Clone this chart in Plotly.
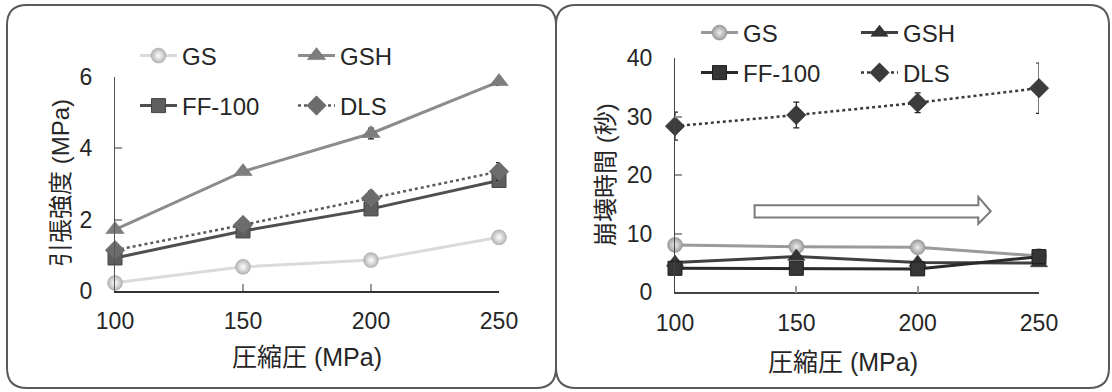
import plotly.graph_objects as go

W, H = 1112, 392

pressure = [100, 150, 200, 250]
series_names = ["GS", "GSH", "FF-100", "DLS"]

# Left panel: tensile strength (MPa)
ts_GS = [0.22, 0.67, 0.86, 1.50]
ts_GSH = [1.72, 3.35, 4.42, 5.88]
ts_FF = [0.92, 1.68, 2.30, 3.10]
ts_DLS = [1.14, 1.85, 2.60, 3.35]
ts_GSH_err = [0.05, 0.08, 0.15, 0.10]
ts_DLS_err = [0.08, 0.10, 0.20, 0.25]

# Right panel: disintegration time (s)
dt_GS = [8.1, 7.8, 7.7, 6.2]
dt_GSH = [5.1, 6.1, 5.1, 5.0]
dt_FF = [4.1, 4.1, 4.0, 6.1]
dt_DLS = [28.4, 30.3, 32.4, 34.9]
dt_DLS_err = [2.4, 2.2, 1.7, 4.3]

x_ticks = [100, 150, 200, 250]
left_y_ticks = [0, 2, 4, 6]
right_y_ticks = [0, 10, 20, 30, 40]

x_title = "圧縮圧 (MPa)"
left_y_title = "引張強度 (MPa)"
right_y_title = "崩壊時間 (秒)"

FONT = "Liberation Sans, Arial, Noto Sans CJK JP, sans-serif"

fig = go.Figure()

def add(x, y, name, xa, ya, line, marker, legend, err=None, showlegend=True):
    kw = {}
    if err is not None:
        kw["error_y"] = dict(type="data", array=err, visible=True, color="#222", thickness=1.2, width=3)
    fig.add_trace(go.Scatter(
        x=x, y=y, name=name, mode="lines+markers", xaxis=xa, yaxis=ya,
        line=line, marker=marker, legend=legend, cliponaxis=False,
        showlegend=showlegend, **kw))

# left panel traces
add(pressure, ts_GS, "GS", "x", "y",
    dict(color="#dadada", width=3),
    dict(symbol="circle", size=15, color="#b4b4b4", gradient=dict(type="radial", color="#ffffff"),
         line=dict(color="#a8a8a8", width=0.5)), "legend")
add(pressure, ts_GSH, "GSH", "x", "y",
    dict(color="#8c8c8c", width=3),
    dict(symbol="triangle-up", size=16, color="#7d7d7d", line=dict(color="#6a6a6a", width=0.5)), "legend",
    err=ts_GSH_err)
add(pressure, ts_FF, "FF-100", "x", "y",
    dict(color="#4f4f4f", width=3),
    dict(symbol="square", size=14, color="#5e5e5e", line=dict(color="#444444", width=1)), "legend2")
add(pressure, ts_DLS, "DLS", "x", "y",
    dict(color="#5a5a5a", width=2.5, dash="dot"),
    dict(symbol="diamond", size=15, color="#6c6c6c", line=dict(color="#555555", width=0.5)), "legend2",
    err=ts_DLS_err)

# right panel traces
add(pressure, dt_GS, "GS", "x2", "y2",
    dict(color="#9a9a9a", width=3),
    dict(symbol="circle", size=15, color="#9c9c9c", gradient=dict(type="radial", color="#eeeeee"),
         line=dict(color="#888888", width=0.5)), "legend3")
add(pressure, dt_GSH, "GSH", "x2", "y2",
    dict(color="#404040", width=3),
    dict(symbol="triangle-up", size=15, color="#333333", line=dict(color="#222222", width=0.5)), "legend3")
add(pressure, dt_FF, "FF-100", "x2", "y2",
    dict(color="#2a2a2a", width=3),
    dict(symbol="square", size=14, color="#363636", line=dict(color="#1e1e1e", width=1)), "legend4")
add(pressure, dt_DLS, "DLS", "x2", "y2",
    dict(color="#3a3a3a", width=2.5, dash="dot"),
    dict(symbol="diamond", size=15, color="#3c3c3c", line=dict(color="#2a2a2a", width=0.5)), "legend4",
    err=dt_DLS_err)

axis_common = dict(showgrid=False, zeroline=False, showline=True, ticks="inside", ticklen=7,
                   tickcolor="#999999", tickwidth=1.5, automargin=False,
                   tickfont=dict(family=FONT, size=23, color="#262626"))

fig.update_layout(
    width=W, height=H, margin=dict(l=0, r=0, t=0, b=0, autoexpand=False),
    paper_bgcolor="white", plot_bgcolor="rgba(0,0,0,0)",
    font=dict(family=FONT, color="#262626"),
    xaxis=dict(domain=[115 / W, 499 / W], range=[100, 250], tickvals=x_ticks, anchor="y",
               linecolor="#333333", linewidth=2, ticklabelstandoff=9, **axis_common),
    yaxis=dict(domain=[1 - 290.7 / H, 1 - 77.3 / H], range=[0, 6], tickvals=left_y_ticks, anchor="x",
               linecolor="#555555", linewidth=1.2, ticklabelstandoff=17, **axis_common),
    xaxis2=dict(domain=[675 / W, 1039 / W], range=[100, 250], tickvals=x_ticks, anchor="y2",
                linecolor="#444444", linewidth=1.5, ticklabelstandoff=9, **axis_common),
    yaxis2=dict(domain=[1 - 292.3 / H, 1 - 58.3 / H], range=[0, 40], tickvals=right_y_ticks, anchor="x2",
                linecolor="#444444", linewidth=1.2, ticklabelstandoff=17, **axis_common),
)

leg_common = dict(orientation="h", xanchor="left", yanchor="middle", bgcolor="rgba(0,0,0,0)",
                  xref="container", yref="container",
                  font=dict(family=FONT, size=24, color="#262626"), itemwidth=37,
                  tracegroupgap=0, itemclick=False)
fig.update_layout(
    legend=dict(x=135 / W, y=1 - 56 / H, entrywidth=106, **leg_common),
    legend2=dict(x=135 / W, y=1 - 106 / H, entrywidth=106, **leg_common),
    legend3=dict(x=696 / W, y=1 - 33 / H, entrywidth=108, **leg_common),
    legend4=dict(x=696 / W, y=1 - 73 / H, entrywidth=108, **leg_common),
)

# Titles
ann = dict(showarrow=False, xref="paper", yref="paper")
fig.add_annotation(text=x_title, x=307 / W, y=1 - 357 / H, xanchor="center", yanchor="middle",
                   font=dict(family=FONT, size=25, color="#262626"), **ann)
fig.add_annotation(text=x_title, x=843 / W, y=1 - 362 / H, xanchor="center", yanchor="middle",
                   font=dict(family=FONT, size=25, color="#262626"), **ann)
fig.add_annotation(text=left_y_title, x=60 / W, y=1 - 183 / H, textangle=-90,
                   xanchor="center", yanchor="middle",
                   font=dict(family=FONT, size=24, color="#262626"), **ann)
fig.add_annotation(text=right_y_title, x=605 / W, y=1 - 174 / H, textangle=-90,
                   xanchor="center", yanchor="middle",
                   font=dict(family=FONT, size=24, color="#262626"), **ann)

# Outline arrow on right panel (data coords)
arrow_x = [132.8, 225.0, 230.1]
arrow_y = [12.8, 14.9, 11.7, 16.3, 13.85]
ax0, ax1, ax2 = arrow_x
sb, st, hb, ht, ym = arrow_y
fig.add_shape(type="path", xref="x2", yref="y2",
              path=f"M {ax0},{sb} L {ax1},{sb} L {ax1},{hb} L {ax2},{ym} L {ax1},{ht} L {ax1},{st} L {ax0},{st} Z",
              fillcolor="white", line=dict(color="#7a7a7a", width=2), layer="above")

# Rounded panel borders (pixel -> paper)
def rrect(x0, y0, x1, y1, r):
    def X(p): return p / W
    def Y(p): return 1 - p / H
    return (f"M {X(x0 + r)},{Y(y0)} L {X(x1 - r)},{Y(y0)} Q {X(x1)},{Y(y0)} {X(x1)},{Y(y0 + r)} "
            f"L {X(x1)},{Y(y1 - r)} Q {X(x1)},{Y(y1)} {X(x1 - r)},{Y(y1)} "
            f"L {X(x0 + r)},{Y(y1)} Q {X(x0)},{Y(y1)} {X(x0)},{Y(y1 - r)} "
            f"L {X(x0)},{Y(y0 + r)} Q {X(x0)},{Y(y0)} {X(x0 + r)},{Y(y0)} Z")

for (a, b) in [(7, 556), (556, 1109)]:
    fig.add_shape(type="path", xref="paper", yref="paper", path=rrect(a, 5, b, 388, 20),
                  line=dict(color="#5a5a5a", width=2), fillcolor="rgba(0,0,0,0)", layer="below")

fig.write_html("out.html")
